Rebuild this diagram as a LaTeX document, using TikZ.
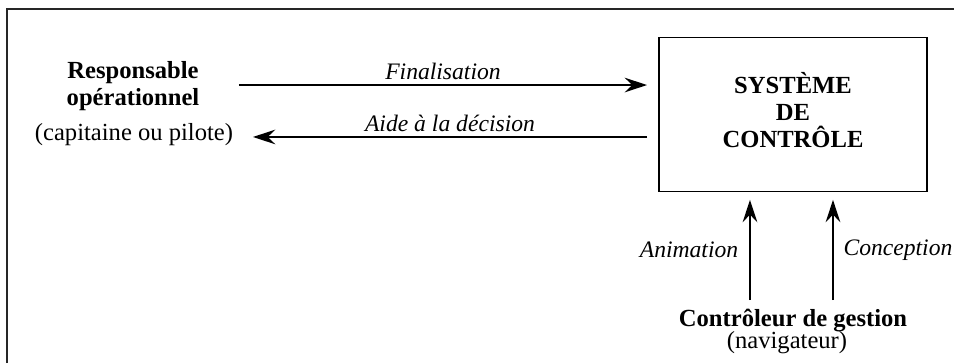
\documentclass[tikz,border=0pt]{standalone}
\usepackage{fontspec}
\setmainfont{Liberation Serif}
\usetikzlibrary{arrows.meta}
\begin{document}
\begin{tikzpicture}[>={Stealth[length=3.2mm,width=2.1mm,inset=1.1mm]},
    flow/.style={->,line width=0.55pt},
    lbl/.style={inner sep=0pt,font=\fontsize{9.6pt}{11pt}\selectfont\itshape},
    who/.style={inner sep=0pt,align=center}]
      \useasboundingbox (0,0) rectangle (13.629,5.186);%

      % cadre ouvert
      \draw[line width=0.7pt,black!85] (0.1,0) -- (0.1,5.057) -- (13.629,5.057);%

      \node[draw,line width=0.5pt,minimum width=3.83cm,minimum height=2.21cm,
        inner sep=0pt,font=\bfseries,align=center,text depth=3.5pt] (SC) at (11.329,3.55)
        {SYSTÈME\\[-1pt]DE\\[-1pt]CONTRÔLE};%

      \node[who,font=\bfseries] (RO) at (1.9,3.96) {Responsable\\[-1pt]opérationnel};%
      \node[who] (CP) at (1.914,3.257) {(capitaine ou pilote)};%

      \node[who,font=\bfseries] (CG) at (11.329,0.6) {Contrôleur de gestion};%
      \node[who] (NV) at (11.243,0.285) {(navigateur)};%

      \coordinate (F1) at (3.414,3.971);%
      \coordinate (F2) at (9.243,3.971);%
      \coordinate (A1) at (9.243,3.229);%
      \coordinate (A2) at (3.614,3.229);%
      \coordinate (N1) at (10.714,0.9);%
      \coordinate (N2) at (10.714,2.33);%
      \coordinate (C1) at (11.9,0.9);%
      \coordinate (C2) at (11.9,2.33);%

      \draw[flow] (F1) -- (F2) node[lbl,midway,above=2pt] {Finalisation};%
      \draw[flow] (A1) -- (A2) node[lbl,midway,above=2pt] {Aide à la décision};%
      \draw[flow] (N1) -- (N2) node[lbl,midway,left=4.5pt] {Animation};%
      \draw[flow] (C1) -- (C2) node[lbl,midway,right=4pt] {Conception};%
    \end{tikzpicture}
\end{document}
